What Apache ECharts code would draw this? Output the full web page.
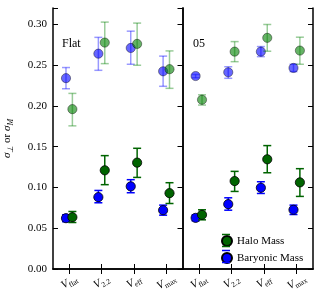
<!DOCTYPE html>
<html><head><meta charset="utf-8">
<script src="https://cdn.jsdelivr.net/npm/echarts@6/dist/echarts.min.js"></script>
<style>html,body{margin:0;padding:0;background:#fff}#c{width:330px;height:295px}</style>
</head><body><div id="c"></div>
<script>
const categories = ['flat', '2.2', 'eff', 'max'];
const panelLabels = ['Flat', '05'];
const yTicks = [0, 0.05, 0.10, 0.15, 0.20, 0.25, 0.30];

// Panel "Flat" — lower group (opaque)
const flatHalo = [0.0635, 0.121, 0.1304, 0.093];
const flatHaloLo = [0.057, 0.1034, 0.1123, 0.0803];
const flatHaloHi = [0.0705, 0.139, 0.148, 0.1058];
const flatBary = [0.0623, 0.0881, 0.1013, 0.0721];
const flatBaryLo = [0.058, 0.0812, 0.0935, 0.066];
const flatBaryHi = [0.0665, 0.0963, 0.1095, 0.0783];
// Panel "Flat" — upper group (transparent)
const flatHaloUp = [0.196, 0.2776, 0.276, 0.245];
const flatHaloUpLo = [0.1755, 0.2518, 0.2498, 0.2215];
const flatHaloUpHi = [0.2153, 0.3027, 0.3015, 0.2674];
const flatBaryUp = [0.234, 0.264, 0.271, 0.2424];
const flatBaryUpLo = [0.221, 0.2436, 0.251, 0.224];
const flatBaryUpHi = [0.247, 0.284, 0.2916, 0.261];

// Panel "05" — lower group
const p05Halo = [0.0664, 0.1078, 0.1345, 0.1062];
const p05HaloLo = [0.0603, 0.0951, 0.118, 0.089];
const p05HaloHi = [0.0726, 0.1197, 0.1513, 0.123];
const p05Bary = [0.0627, 0.0795, 0.0996, 0.0726];
const p05BaryLo = [0.059, 0.0721, 0.0926, 0.0668];
const p05BaryHi = [0.0665, 0.0873, 0.107, 0.0783];
// Panel "05" — upper group
const p05HaloUp = [0.2075, 0.2665, 0.2834, 0.2678];
const p05HaloUpLo = [0.201, 0.2542, 0.267, 0.251];
const p05HaloUpHi = [0.2136, 0.2788, 0.2998, 0.2842];
const p05BaryUp = [0.2366, 0.2412, 0.2665, 0.2465];
const p05BaryUpLo = [0.2345, 0.2338, 0.2604, 0.242];
const p05BaryUpHi = [0.2385, 0.248, 0.2727, 0.251];

const FONT = 'Liberation Serif';
const rows = (v, lo, hi) => v.map((y, i) => [i, y, lo[i], hi[i]]);

function makeSeries(name, grid, data, dx, fill, ecolor, edge, inLegend) {
  return {
    type: 'custom', name: inLegend ? name : name + ' (upper)',
    xAxisIndex: grid * 2, yAxisIndex: grid * 2,
    data: data, encode: { x: 0, y: 1 },
    itemStyle: { color: fill, borderColor: edge, borderWidth: 0.8 },
    renderItem: function (params, api) {
      const i = api.value(0);
      const p = api.coord([i, api.value(1)]);
      const pl = api.coord([i, api.value(2)]);
      const ph = api.coord([i, api.value(3)]);
      const x = p[0] + dx, cw = 4;
      const ls = { stroke: ecolor, lineWidth: 1.5 };
      return { type: 'group', children: [
        { type: 'line', shape: { x1: x, y1: pl[1], x2: x, y2: ph[1] }, style: ls },
        { type: 'line', shape: { x1: x - cw, y1: pl[1], x2: x + cw, y2: pl[1] }, style: ls },
        { type: 'line', shape: { x1: x - cw, y1: ph[1], x2: x + cw, y2: ph[1] }, style: ls },
        { type: 'circle', shape: { cx: x, cy: p[1], r: 4.6 }, style: { fill: fill, stroke: edge, lineWidth: 0.8 } }
      ] };
    }
  };
}

const BLUE = '#0000ff', GREEN = '#006400';
const BLUE_A = 'rgba(0,0,255,0.6)', GREEN_A = 'rgba(0,128,0,0.6)';
const BLUE_E = 'rgba(0,0,255,0.4)', GREEN_E = 'rgba(0,128,0,0.4)';
const EDGE_A = 'rgba(0,0,0,0.5)';

const series = [
  makeSeries('Baryonic Mass', 0, rows(flatBaryUp, flatBaryUpLo, flatBaryUpHi), -3.2, BLUE_A, BLUE_E, EDGE_A, false),
  makeSeries('Halo Mass', 0, rows(flatHaloUp, flatHaloUpLo, flatHaloUpHi), 3.2, GREEN_A, GREEN_E, EDGE_A, false),
  makeSeries('Baryonic Mass', 0, rows(flatBary, flatBaryLo, flatBaryHi), -3.2, BLUE, BLUE, '#000', true),
  makeSeries('Halo Mass', 0, rows(flatHalo, flatHaloLo, flatHaloHi), 3.2, GREEN, GREEN, '#000', true),
  makeSeries('Baryonic Mass', 1, rows(p05BaryUp, p05BaryUpLo, p05BaryUpHi), -3.2, BLUE_A, BLUE_E, EDGE_A, false),
  makeSeries('Halo Mass', 1, rows(p05HaloUp, p05HaloUpLo, p05HaloUpHi), 3.2, GREEN_A, GREEN_E, EDGE_A, false),
  makeSeries('Baryonic Mass', 1, rows(p05Bary, p05BaryLo, p05BaryHi), -3.2, BLUE, BLUE, '#000', true),
  makeSeries('Halo Mass', 1, rows(p05Halo, p05HaloLo, p05HaloHi), 3.2, GREEN, GREEN, '#000', true)
];

const axLine = { show: true, lineStyle: { color: '#000', width: 1.5 } };
const tickIn = { show: true, inside: true, length: 5, lineStyle: { color: '#000', width: 1 } };
const xRich = {
  v: { fontFamily: FONT, fontStyle: 'italic', fontSize: 11, color: '#000', lineHeight: 15 },
  s: { fontFamily: FONT, fontSize: 7.5, color: '#000', verticalAlign: 'bottom', lineHeight: 8 }
};
function xAxes(grid) {
  return [
    { type: 'category', gridIndex: grid, data: categories, position: 'bottom',
      axisLine: axLine, axisTick: Object.assign({ alignWithLabel: true }, tickIn),
      axisLabel: { rotate: 30, margin: 13, align: 'center', verticalAlign: 'middle', rich: xRich,
        formatter: c => '{v|V}{s|' + c + '}' }, splitLine: { show: false } },
    { type: 'category', gridIndex: grid, data: categories, position: 'top',
      axisLine: axLine, axisTick: Object.assign({ alignWithLabel: true }, tickIn),
      axisLabel: { show: false }, splitLine: { show: false } }
  ];
}
const yFmt = v => yTicks.some(t => Math.abs(t - v) < 1e-9) ? v.toFixed(2) : '';
function yAxes(grid) {
  const base = { type: 'value', gridIndex: grid, min: 0, max: 0.32, interval: 0.05, splitLine: { show: false } };
  return [
    Object.assign({}, base, { position: 'left', axisLine: axLine,
      axisTick: grid === 0 ? tickIn : { show: false },
      axisLabel: grid === 0 ? { show: true, formatter: yFmt, fontFamily: FONT, fontSize: 11, color: '#000', margin: 6 } : { show: false },
      name: grid === 0 ? '{i|σ}{s|⊥} or {i|σ}{s|M}' : '', nameLocation: 'middle', nameGap: 38,
      nameTextStyle: { rich: {
        i: { fontFamily: FONT, fontStyle: 'italic', fontSize: 11, color: '#000', lineHeight: 15 },
        s: { fontFamily: FONT, fontStyle: 'italic', fontSize: 8, color: '#000', verticalAlign: 'bottom', lineHeight: 9 }
      }, fontFamily: FONT, fontSize: 11, color: '#000' } }),
    Object.assign({}, base, { position: 'right', axisLine: axLine, axisTick: tickIn, axisLabel: { show: false } })
  ];
}

const capStyle = c => ({ stroke: c, lineWidth: 1.5 });
const option = {
  animation: false,
  backgroundColor: '#fff',
  grid: [
    { left: 53, top: 8, width: 129.5, height: 261 },
    { left: 182.5, top: 8, width: 130.5, height: 261 }
  ],
  xAxis: [...xAxes(0), ...xAxes(1)],
  yAxis: [...yAxes(0), ...yAxes(1)],
  legend: {
    data: ['Halo Mass', 'Baryonic Mass'], orient: 'vertical', left: 221, top: 235,
    padding: 0, itemWidth: 10, itemHeight: 10, itemGap: 5, icon: 'circle',
    textStyle: { fontFamily: FONT, fontSize: 11, color: '#000', lineHeight: 10 }
  },
  graphic: [
    { type: 'text', left: 62, top: 38, style: { text: panelLabels[0], font: '12px "Liberation Serif"', fill: '#000' } },
    { type: 'text', left: 193, top: 38, style: { text: panelLabels[1], font: '12px "Liberation Serif"', fill: '#000' } },
    { type: 'line', z: 10, shape: { x1: 222, y1: 234.5, x2: 230, y2: 234.5 }, style: capStyle(GREEN) },
    { type: 'line', z: 10, shape: { x1: 222, y1: 246.5, x2: 230, y2: 246.5 }, style: capStyle(GREEN) },
    { type: 'line', z: 10, shape: { x1: 222, y1: 250.5, x2: 230, y2: 250.5 }, style: capStyle(BLUE) },
    { type: 'line', z: 10, shape: { x1: 222, y1: 262.5, x2: 230, y2: 262.5 }, style: capStyle(BLUE) }
  ],
  series: series
};
const chart = echarts.init(document.getElementById('c'), null, { renderer: 'canvas' });
chart.setOption(option);
</script></body></html>
